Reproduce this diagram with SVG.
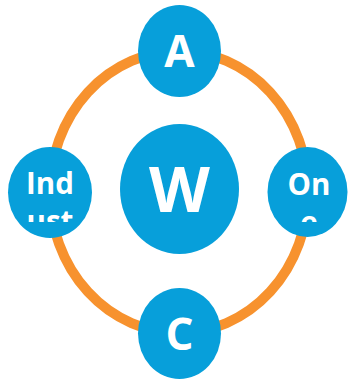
<svg xmlns="http://www.w3.org/2000/svg" width="348" height="383" viewBox="0 0 348 383">
<style>
.node{fill:#079FDA}
.t{fill:#fff;font-family:"Open Sans","Liberation Sans",sans-serif;font-weight:bold;text-anchor:middle}
.ring{fill:none;stroke:#F7922E;stroke-width:10}
</style>
<defs>
<clipPath id="clipL"><rect x="8" y="150" width="84" height="72"/></clipPath>
<clipPath id="clipR"><rect x="268" y="150" width="80" height="72"/></clipPath>
</defs>
<g id="connectors">
<ellipse class="ring" cx="179" cy="192" rx="129" ry="141"/>
</g>
<g id="node-W">
<ellipse class="node" cx="179.5" cy="189" rx="59.5" ry="65"/>
<text class="t" x="179.5" y="212" font-size="63">W</text>
</g>
<g id="node-A">
<ellipse class="node" cx="179.5" cy="51" rx="41.5" ry="46"/>
<text class="t" x="179.5" y="67" font-size="44">A</text>
</g>
<g id="node-C">
<ellipse class="node" cx="179.5" cy="333.5" rx="41.5" ry="45.5"/>
<text class="t" x="179.5" y="350" font-size="44">C</text>
</g>
<g id="node-Ind">
<ellipse class="node" cx="50" cy="192.5" rx="42" ry="45.5"/>
<g clip-path="url(#clipL)">
<text class="t" x="50" y="193.5" font-size="29.5">Ind</text>
<text class="t" x="50" y="231.5" font-size="29.5">ust</text>
</g>
</g>
<g id="node-On">
<ellipse class="node" cx="307.5" cy="192" rx="40" ry="45"/>
<g clip-path="url(#clipR)">
<text class="t" x="309" y="194.5" font-size="29.5">On</text>
<text class="t" x="309" y="232.5" font-size="29.5">e</text>
</g>
</g>
</svg>
